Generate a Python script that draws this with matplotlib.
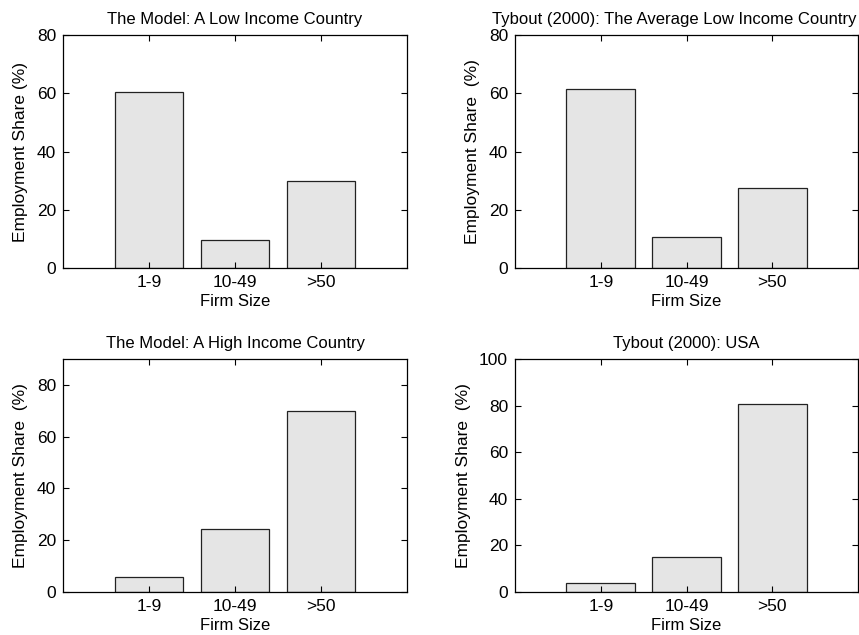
import numpy as np
import matplotlib.pyplot as plt

plt.rcParams['font.family'] = ['Liberation Sans', 'DejaVu Sans']

categorias = ['1-9', '10-49', '>50']

modelo_bajo = [60.5, 9.5, 30.0]
tybout_bajo = [61.3, 10.8, 27.6]
modelo_alto = [5.9, 24.2, 70.1]
tybout_usa = [4.0, 14.9, 80.9]

titulos = ['The Model: A Low Income Country',
           'Tybout (2000): The Average Low Income Country',
           'The Model: A High Income Country',
           'Tybout (2000): USA']
etiquetas_y = ['Employment Share (%)',
               'Employment Share  (%)',
               'Employment Share  (%)',
               'Employment Share  (%)']
limites_y = [80, 80, 90, 100]
series = [modelo_bajo, tybout_bajo, modelo_alto, tybout_usa]

W, H = 859, 635
fig = plt.figure(figsize=(W / 100, H / 100), dpi=100)

# posiciones de los ejes en pixeles (izq, arriba, der, abajo)
cajas = [(63, 35, 407, 268), (515, 35, 858, 268),
         (63, 359, 407, 592), (515, 359, 858, 592)]
# el titulo largo se corre un poco a la izquierda para que quepa
centro_titulo = [0.5, 0.465, 0.5, 0.5]

for i in range(4):
    x0, y0, x1, y1 = cajas[i]
    ax = fig.add_axes([x0 / W, 1 - y1 / H, (x1 - x0) / W, (y1 - y0) / H])
    x = np.arange(1, len(categorias) + 1)
    ax.bar(x, series[i], width=0.8, color='#e5e5e5', edgecolor='#222222', linewidth=0.9)
    ax.set_xlim(0, 4)
    ax.set_ylim(0, limites_y[i])
    ax.set_xticks(x)
    ax.set_xticklabels(categorias)
    ax.set_yticks(np.arange(0, limites_y[i] + 1, 20))
    ax.tick_params(direction='in', top=True, right=True, labelsize=12.5, length=4, width=0.8, pad=5)
    for s in ax.spines.values():
        s.set_linewidth(0.9)
    ax.set_title(titulos[i], fontsize=12, pad=8, x=centro_titulo[i])
    ax.set_ylabel(etiquetas_y[i], fontsize=12.5, labelpad=6)
    ax.set_xlabel('Firm Size', fontsize=12, labelpad=3)

fig.savefig('out.png', dpi=100)
